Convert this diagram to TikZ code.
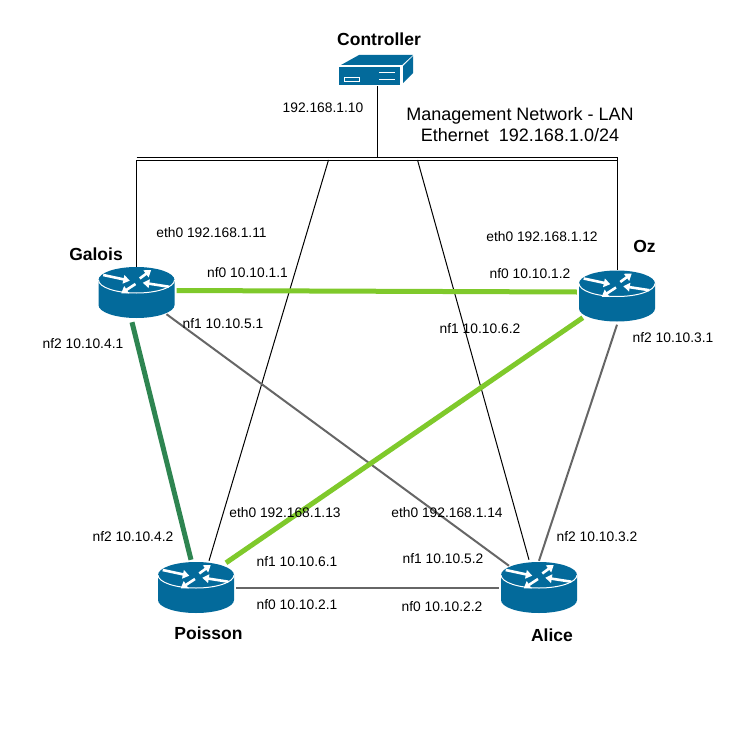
\documentclass[tikz,border=0pt]{standalone}
\usepackage{fontspec}
\setmainfont{Liberation Sans}
\usetikzlibrary{calc,arrows.meta}
\definecolor{cisco}{HTML}{036A9B}
\definecolor{lime}{HTML}{7FC92B}
\definecolor{dgreen}{HTML}{2E8551}
\definecolor{gline}{HTML}{666666}
\tikzset{
 x=1pt,y=-1pt,
 lbl/.style={font=\fontsize{13.8}{16}\selectfont,inner sep=0pt,text=black},
 hostlbl/.style={font=\fontsize{17.5}{20}\selectfont\bfseries,inner sep=0pt},
 netlbl/.style={font=\fontsize{18}{21}\selectfont,inner sep=0pt,align=center},
 routerbox/.style={minimum width=76pt,minimum height=51pt,inner sep=0pt,draw=none},
 thinlink/.style={draw=black,line width=1pt},
 graylink/.style={draw=gline,line width=2pt},
 limelink/.style={draw=lime,line width=5pt},
 darklink/.style={draw=dgreen,line width=5pt},
 whitearrow/.style={draw=white,line width=2.6pt,-{Triangle[length=6.5pt,width=8.5pt]}},
 pics/routericon/.style={code={
  \fill[cisco] (-38,-12.5) -- (38,-12.5) -- (38,12.5)
     arc[x radius=38,y radius=13,start angle=0,end angle=180] -- cycle;
  \fill[cisco] (0,-12.5) ellipse[x radius=38,y radius=13];
  \draw[white,line width=1pt] (-38,-12.5) arc[x radius=38,y radius=13,start angle=180,end angle=0];
  \draw[whitearrow] (-33.3,-17.5) -- (-6.7,-11.8);
  \draw[whitearrow] (3.3,-14) -- (14.7,-22.5);
  \draw[whitearrow] (32.3,-5.8) -- (6.3,-9.8);
  \draw[whitearrow] (-1,-8.5) -- (-15.3,0.8);
 }}
}
\begin{document}
\begin{tikzpicture}
\useasboundingbox (0,0) rectangle (742,752);
% routers
\node[routerbox] (galois) at (136.5,292.5) {};
\node[routerbox] (oz) at (617,296) {};
\node[routerbox] (poisson) at (196,587.5) {};
\node[routerbox] (alice) at (539,587.5) {};
% controller
\node[minimum width=62pt,minimum height=32pt,inner sep=0pt] (ctrl) at (377.5,70) {};
\coordinate (busc) at (377.5,157);
\coordinate (busl) at (136.5,157);
\coordinate (busr) at (617.5,157);
\coordinate (busl2) at (136.5,160);
\coordinate (busr2) at (617.5,160);
\coordinate (tap1) at (328.5,160);
\coordinate (tap2) at (417.5,160);
% bus
\draw[thinlink] (busl) -- (busr);
\draw[thinlink] (busl2) -- (busr2);
\draw[thinlink] (ctrl.south -| busc) -- (busc);
\draw[thinlink] (busl2) -- (busl2 |- galois.north);
\draw[thinlink] (busr) -- (busr |- oz.north);
\draw[thinlink] (tap1) -- ($(poisson.north)+(13,-1)$);
\draw[thinlink] (tap2) -- ($(alice.north)+(-10,-2)$);
% links
\draw[graylink] ($(galois.south)+(30,-4)$) -- ($(alice.north)+(-30,4)$);
\draw[graylink] ($(oz.south)+(0,3)$) -- ($(alice.north)+(0,-1)$);
\draw[graylink] ($(poisson.east)+(2,0)$) -- ($(alice.west)+(-2,0)$);
\draw[limelink] ($(galois.east)+(2,-2)$) -- ($(oz.west)+(-2,-4)$);
\draw[limelink] ($(oz.south west)+(4,-4)$) -- ($(poisson.north)+(30,1)$);
\draw[darklink] ($(galois.south)+(-4.5,4)$) -- ($(poisson.north)+(-5,-2)$);
% router icons
\foreach \n in {galois,oz,poisson,alice}{ \path (\n.center) pic {routericon}; }
% controller icon
\fill[cisco] (341,65) -- (359,55) -- (413,55) -- (402,65) -- cycle;
\fill[cisco] (339,67) rectangle (400,84.5);
\fill[cisco] (403,83) -- (413,73) -- (413,56) -- (403,66) -- cycle;
\draw[white,line width=1pt] (344,81) rectangle (359,77);
\draw[white,line width=0.9pt] (379,72) -- (395,72) (379,79) -- (395,79);
% labels
\node[hostlbl] at (379,39) {Controller};
\node[hostlbl] at (96,254) {Galois};
\node[hostlbl] at (644.5,246) {Oz};
\node[hostlbl] at (208.5,633) {Poisson};
\node[hostlbl] at (552,635) {Alice};
\node[netlbl] at (520,124.5) {Management Network - LAN\\Ethernet\ \ 192.168.1.0/24};
\node[lbl] at (323,108) {192.168.1.10};
\node[lbl] at (211.5,232.5) {eth0 192.168.1.11};
\node[lbl] at (247.5,273) {nf0 10.10.1.1};
\node[lbl] at (223,324) {nf1 10.10.5.1};
\node[lbl] at (83,344) {nf2 10.10.4.1};
\node[lbl] at (542,237) {eth0 192.168.1.12};
\node[lbl] at (530,274) {nf0 10.10.1.2};
\node[lbl] at (480,329) {nf1 10.10.6.2};
\node[lbl] at (673,338) {nf2 10.10.3.1};
\node[lbl] at (133,537) {nf2 10.10.4.2};
\node[lbl] at (285,513) {eth0 192.168.1.13};
\node[lbl] at (447,513) {eth0 192.168.1.14};
\node[lbl] at (297,562) {nf1 10.10.6.1};
\node[lbl] at (443,559) {nf1 10.10.5.2};
\node[lbl] at (597,537) {nf2 10.10.3.2};
\node[lbl] at (297,605) {nf0 10.10.2.1};
\node[lbl] at (442,607) {nf0 10.10.2.2};
\end{tikzpicture}
\end{document}
